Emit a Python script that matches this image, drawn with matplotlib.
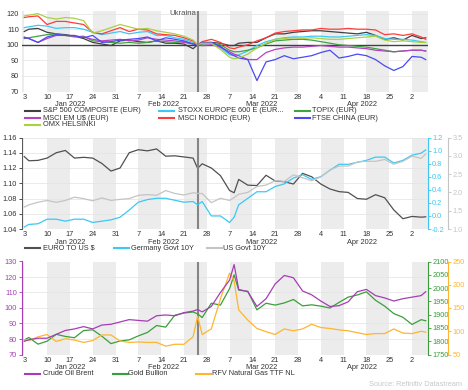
import matplotlib
matplotlib.use("Agg")
import matplotlib.pyplot as plt
import numpy as np
import pandas as pd
from matplotlib.lines import Line2D

W, H = 468, 390

# business days on the x axis; values are read at these day positions
DAYS = pd.bdate_range("2022-01-03", "2022-05-05")
SAMPLE = sorted({0, 38, 46, 88} | set(range(1, 88, 2)))
INVASION = "2022-02-24"

# --- equities, rebased 100 = invasion day ---
sp500 = [108.5, 110, 110.5, 108, 107, 106.5, 105.5, 104, 101.5, 100.5,
         99.5, 102.5, 103, 102, 101.5, 102.5, 101, 101, 100.5, 97.5,
         100, 101, 101.5, 101, 99.5, 99.5, 101, 101.5, 101.5, 104.5,
         107, 107, 108, 108.5, 109, 109, 108.5, 108, 107.5, 107,
         108, 106, 103.5, 104.5, 103, 106, 104, 104.5]
stoxx600 = [111, 111.5, 112.5, 112, 110.5, 111, 111, 110, 108, 106.5,
            107.5, 108.5, 107, 108, 108.5, 106, 106, 104.5, 103.5, 101.5,
            100, 101.5, 101.5, 98, 93.5, 93, 93.5, 96, 99.5, 102,
            103.5, 104.5, 105, 105, 105.5, 105.5, 105, 105, 105.5, 106,
            106.5, 106, 104, 103.5, 103.5, 103, 102, 101.5]
topix = [104, 104.5, 105.5, 106.5, 107, 106, 105, 105.5, 102.5, 102,
         101.5, 101, 101.5, 101, 101.5, 102.5, 102, 101.5, 102, 100.5,
         100, 100.5, 101, 100, 96.5, 95.5, 95.5, 96.5, 98, 100.5,
         102.5, 103, 103.5, 103.5, 103, 102, 101, 100, 99.5, 99,
         98.5, 97.5, 96.5, 95.5, 96, 96.5, 96.5, 96]
msci_em = [105, 104, 101.5, 104, 106, 106, 105.5, 105, 103.5, 102.5,
           103, 103.5, 102.5, 103, 104.5, 103.5, 103, 102.5, 101.5, 100.5,
           100, 99.5, 100, 98.5, 95.5, 94, 93, 90.5, 90.5, 95,
           97, 98, 98.5, 98.5, 99, 99.5, 99, 98.5, 98.5, 98,
           97.5, 96.5, 96, 95.5, 96, 96.5, 96.5, 96]
msci_nordic = [117.5, 118, 118.5, 113, 115, 115, 114, 113, 108, 107,
               109, 111, 108.5, 110, 109.5, 107, 106.5, 106, 104.5, 102.5,
               100, 102, 103.5, 101.5, 98, 97.5, 98.5, 100, 102.5, 104.5,
               107.5, 108.5, 109, 109.5, 109.5, 110.5, 110, 110, 110.5, 110,
               110, 109.5, 106.5, 107, 106, 107, 105, 103.5]
ftse_china = [104.5, 104, 101.5, 105, 106.5, 106, 106, 104.5, 106, 101.5,
              102, 103, 103.5, 104, 105, 102.5, 104.5, 103.5, 102.5, 100.5,
              100, 101.5, 101.5, 99, 94.5, 93, 91.5, 90.5, 77, 89,
              90.5, 93, 91, 92, 93, 95, 96.5, 91.5, 92.5, 94,
              93, 90.5, 86.5, 83.5, 86, 92.5, 92, 90.5]
omx_helsinki = [118.5, 119, 120, 117.5, 116.5, 117.5, 117, 115.5, 107.5, 109,
                111, 113, 111.5, 110, 110.5, 109, 108, 107, 105.5, 103,
                100, 101, 101, 97, 92, 91, 91.5, 94, 98, 101,
                103.5, 104, 104.5, 104, 104.5, 104, 103.5, 103.5, 104, 104.5,
                105, 105.5, 103, 102, 102.5, 102, 101.5, 101.5]

# --- fx and rates ---
eurusd = [1.135, 1.1295, 1.130, 1.133, 1.140, 1.143, 1.133, 1.134, 1.133, 1.126,
          1.116, 1.120, 1.140, 1.144, 1.1425, 1.145, 1.1355, 1.136, 1.1345, 1.133,
          1.1196, 1.1255, 1.120, 1.110, 1.0905, 1.0875, 1.105, 1.0975, 1.097, 1.1105,
          1.103, 1.102, 1.099, 1.113, 1.1085, 1.099, 1.0925, 1.089, 1.088, 1.080,
          1.079, 1.085, 1.081, 1.065, 1.0535, 1.0565, 1.0555, 1.056]
bund10y = [-0.17, -0.13, -0.12, -0.05, -0.05, -0.08, -0.05, -0.05, -0.10, -0.08,
           -0.06, -0.02, 0.09, 0.21, 0.25, 0.27, 0.27, 0.24, 0.21, 0.22,
           0.17, 0.22, 0.00, 0.00, -0.10, -0.02, 0.17, 0.27, 0.37, 0.37,
           0.45, 0.49, 0.58, 0.63, 0.56, 0.60, 0.70, 0.79, 0.79, 0.82,
           0.85, 0.90, 0.90, 0.81, 0.85, 0.93, 0.96, 1.01]
ust10y = [1.60, 1.66, 1.73, 1.78, 1.73, 1.78, 1.87, 1.83, 1.77, 1.85,
          1.78, 1.81, 1.83, 1.92, 1.94, 1.92, 2.05, 1.97, 1.93, 1.99,
          1.97, 1.97, 1.72, 1.84, 1.78, 1.86, 1.95, 2.00, 2.16, 2.20,
          2.32, 2.30, 2.48, 2.40, 2.32, 2.42, 2.61, 2.72, 2.72, 2.83,
          2.85, 2.85, 2.90, 2.77, 2.85, 2.99, 2.93, 3.05]

# --- commodities ---
brent = [78.5, 79.5, 80.5, 80.5, 83, 85.5, 86.5, 88, 86.5, 89,
         89.5, 91, 92.5, 92, 91.5, 95, 95.5, 95, 97, 98,
         99, 97.5, 101, 110, 118, 128, 112, 110.5, 101, 106,
         115.5, 121, 119.5, 111, 108.5, 104.5, 101, 101.5, 104, 110.5,
         112, 108, 106.5, 104.5, 106, 107, 108, 110.5]
gold = [1805, 1814, 1789, 1800, 1826, 1818, 1813, 1840, 1843, 1819,
        1791, 1801, 1805, 1820, 1833, 1859, 1853, 1898, 1906, 1910,
        1903, 1889, 1943, 1936, 1998, 2050, 1992, 1988, 1918, 1943,
        1936, 1944, 1957, 1933, 1937, 1932, 1925, 1946, 1966, 1974,
        1986, 1954, 1932, 1904, 1890, 1863, 1881, 1877]
ttf_gas = [82, 80, 88, 93, 78, 84, 81, 76, 80, 92,
           92, 79, 76, 77, 76, 76, 68, 72, 72, 88,
           132, 93, 105, 170, 225, 208, 146, 124, 106, 99,
           93, 105, 101, 105, 115, 108, 106, 103, 101, 97,
           93, 95, 95, 105, 96, 95, 100, 98]

EQUITIES = [
    ("S&P 500 COMPOSITE (EUR)", sp500, "#404040"),
    ("STOXX EUROPE 600 E (EUR...", stoxx600, "#3cc8f4"),
    ("TOPIX (EUR)", topix, "#3fa33f"),
    ("MSCI EM U$ (EUR)", msci_em, "#b443c4"),
    ("MSCI NORDIC (EUR)", msci_nordic, "#ff3b3b"),
    ("FTSE CHINA (EUR)", ftse_china, "#4a4af5"),
    ("OMX HELSINKI", omx_helsinki, "#aad044"),
]

plt.rcParams["font.family"] = ["Liberation Sans", "DejaVu Sans"]
plt.rcParams["font.size"] = 5.3
plt.rcParams["axes.unicode_minus"] = False

TXT = "#333333"
x = np.array(SAMPLE)
inv = DAYS.get_loc(pd.Timestamp(INVASION))

fig = plt.figure(figsize=(W / 100, H / 100), dpi=100)


def rect(top, bottom, left=22, right=428):
    return [left / W, 1 - bottom / H, (right - left) / W, (bottom - top) / H]


def base(ax):
    mondays = np.where(DAYS.dayofweek == 0)[0]
    for start in range(mondays[0] - 5, len(DAYS) + 5, 10):
        ax.axvspan(start, start + 5, color="#ececec", lw=0, zorder=0)
    ax.set_xlim(-0.5, len(DAYS) - 0.5)
    ax.set_xticks(mondays, [str(d.day) for d in DAYS[mondays]])
    ax.tick_params(axis="x", length=0, pad=1.5, colors=TXT)
    for m in range(1, 5):
        pos = np.where(DAYS.month == m)[0].mean()
        ax.annotate(pd.Timestamp(2022, m, 1).strftime("%b %Y"), (pos, 0),
                    xycoords=("data", "axes fraction"), xytext=(0, -9.5),
                    textcoords="offset points", ha="center", va="center",
                    color=TXT)
    ax.yaxis.grid(True, color="#e2e2e2", lw=0.5)
    ax.set_axisbelow(True)
    for s in ax.spines.values():
        s.set_visible(False)
    ax.axvline(inv, color="#858585", lw=1.5, zorder=5)


def legend(items, cols, rows):
    k = 0
    for y in rows:
        for x0, xt in cols:
            if k >= len(items):
                return
            label, color = items[k]
            fy = 1 - y / H
            fig.add_artist(Line2D([x0 / W, (x0 + 15) / W], [fy, fy],
                                  color=color, lw=1.5))
            fig.text(xt / W, fy, label, ha="left", va="center", color=TXT)
            k += 1


def right_axis(ax, color, lim, ticks, fmt, offset=0):
    tw = ax.twinx()
    for s in ("top", "left", "bottom"):
        tw.spines[s].set_visible(False)
    tw.spines["right"].set_color(color)
    tw.spines["right"].set_linewidth(0.8)
    if offset:
        tw.spines["right"].set_position(("outward", offset))
    tw.set_ylim(*lim)
    tw.set_yticks(ticks, [fmt.format(t) for t in ticks])
    tw.tick_params(axis="y", colors=color, length=2, width=0.6, pad=1)
    return tw


# ---------------- equities ----------------
ax1 = fig.add_axes(rect(10.5, 91.5))
base(ax1)
ax1.axhline(100, color="#404040", lw=1, zorder=2)
for label, vals, color in EQUITIES:
    ax1.plot(x, vals, color=color, lw=0.9, zorder=3)
ax1.set_ylim(70, 122)
ax1.set_yticks(range(70, 121, 10))
ax1.tick_params(axis="y", length=0, pad=2, colors=TXT)
fig.text(196 / W, 1 - 13.5 / H, "Ukraina", ha="right", va="center",
         color="#555555", fontsize=5.6)
legend([(lab, c) for lab, _, c in EQUITIES],
       [(25, 43), (159, 178), (295, 312)], [111, 118, 125])

# ---------------- fx and rates ----------------
ax2 = fig.add_axes(rect(137.5, 229))
base(ax2)
ax2.plot(x, eurusd, color="#505050", lw=0.9, zorder=3)
ax2.set_ylim(1.04, 1.16)
yt = np.arange(1.04, 1.161, 0.02)
ax2.set_yticks(yt, [f"{t:.2f}" for t in yt])
ax2.spines["left"].set_visible(True)
ax2.spines["left"].set_color("#404040")
ax2.spines["left"].set_linewidth(0.6)
ax2.tick_params(axis="y", length=2, width=0.6, pad=1.5, colors=TXT)
c_de, c_us = "#3cc8f4", "#c4c4c4"
tw_de = right_axis(ax2, c_de, (-0.2, 1.2), np.arange(-0.2, 1.21, 0.2), "{:.1f}")
tw_us = right_axis(ax2, c_us, (1.0, 3.5), np.arange(1.0, 3.51, 0.5), "{:.1f}",
                   offset=14.5)
tw_us.plot(x, ust10y, color=c_us, lw=0.9)
tw_de.plot(x, bund10y, color=c_de, lw=0.9)
legend([("EURO TO US $", "#505050"), ("Germany Govt 10Y", c_de),
        ("US Govt 10Y", c_us)],
       [(25, 43), (114, 131), (207, 223)], [248.5])

# ---------------- commodities ----------------
ax3 = fig.add_axes(rect(261.5, 354.5))
base(ax3)
c_oil, c_gold, c_gas = "#a63db5", "#3a9f3a", "#ffb52e"
ax3.set_ylim(70, 130)
ax3.set_yticks(range(70, 131, 10))
ax3.spines["left"].set_visible(True)
ax3.spines["left"].set_color(c_oil)
ax3.spines["left"].set_linewidth(0.8)
ax3.tick_params(axis="y", length=2, width=0.6, pad=1.5, colors=c_oil)
tw_gold = right_axis(ax3, c_gold, (1750, 2100), range(1750, 2101, 50), "{}")
tw_gas = right_axis(ax3, c_gas, (50, 250), range(50, 251, 50), "{}",
                    offset=14.5)
tw_gas.plot(x, ttf_gas, color=c_gas, lw=0.9)
tw_gold.plot(x, gold, color=c_gold, lw=0.9)
# brent on its own overlay so it sits above the other two lines
tw_oil = ax3.twinx()
tw_oil.set_ylim(70, 130)
tw_oil.set_yticks([])
for s in tw_oil.spines.values():
    s.set_visible(False)
tw_oil.plot(x, brent, color=c_oil, lw=0.9)
legend([("Crude Oil Brent", c_oil), ("Gold Bullion", c_gold),
        ("RFV Natural Gas TTF NL", c_gas)],
       [(25, 43), (113, 128), (196, 212)], [373.5])

fig.text(462 / W, 1 - 384 / H, "Source: Refinitiv Datastream", ha="right",
         va="center", color="#c8c8c8")

fig.savefig("out.png", dpi=100)
